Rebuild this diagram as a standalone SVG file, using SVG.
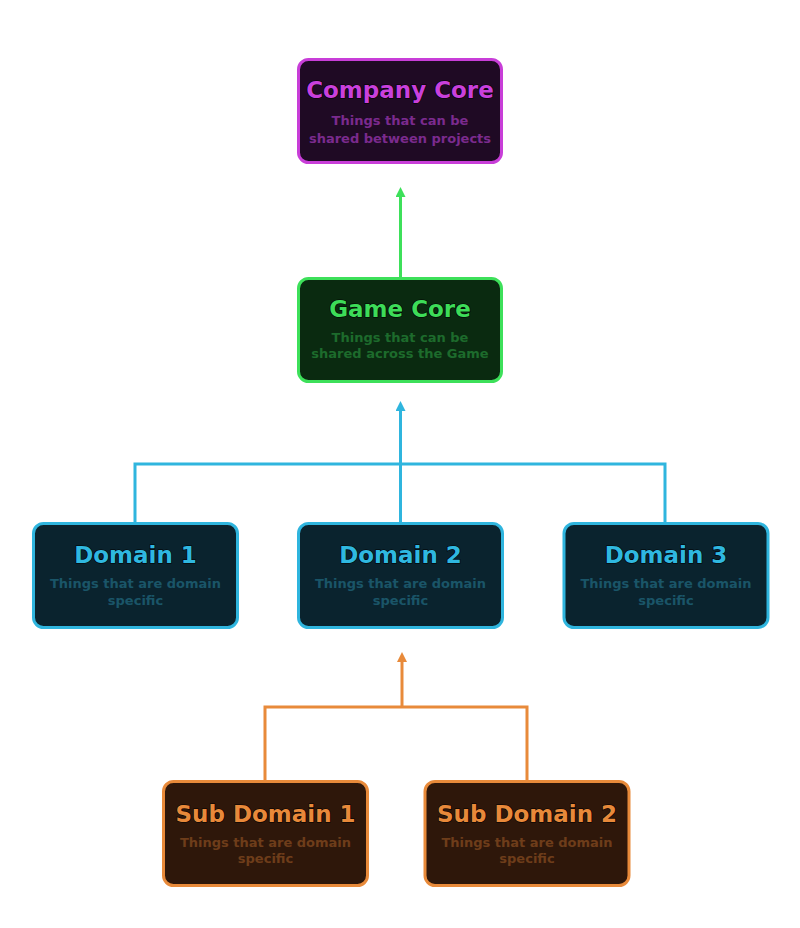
<svg xmlns="http://www.w3.org/2000/svg" width="800" height="928" viewBox="0 0 800 928">
<style>
.box{stroke-width:3}
.t{font-family:"DejaVu Sans","Liberation Sans",sans-serif;font-weight:bold;font-size:23px;text-anchor:middle;stroke:#000;stroke-width:1.2;paint-order:stroke}
.s{font-family:"DejaVu Sans","Liberation Sans",sans-serif;font-weight:bold;font-size:13px;text-anchor:middle}
.c{fill:none;stroke-width:3}
</style>
<defs>
<marker id="ag" viewBox="0 0 10 10" refX="2" refY="5" markerWidth="10" markerHeight="10" markerUnits="userSpaceOnUse" orient="auto"><path d="M0,0 L10,5 L0,10 Z" fill="#3de05a"/></marker>
<marker id="ab" viewBox="0 0 10 10" refX="2" refY="5" markerWidth="10" markerHeight="10" markerUnits="userSpaceOnUse" orient="auto"><path d="M0,0 L10,5 L0,10 Z" fill="#2fb5de"/></marker>
<marker id="ao" viewBox="0 0 10 10" refX="2" refY="5" markerWidth="10" markerHeight="10" markerUnits="userSpaceOnUse" orient="auto"><path d="M0,0 L10,5 L0,10 Z" fill="#e88a3a"/></marker>
</defs>
<rect width="800" height="928" fill="#ffffff"/>
<g id="connectors">
<path class="c" stroke="#3de05a" d="M400.5,277 V195" marker-end="url(#ag)"/>
<path class="c" stroke="#2fb5de" d="M135,523 V464 H665 V523"/>
<path class="c" stroke="#2fb5de" d="M400.5,523 V409" marker-end="url(#ab)"/>
<path class="c" stroke="#e88a3a" d="M265,781 V707 H527 V781"/>
<path class="c" stroke="#e88a3a" d="M402,707 V660" marker-end="url(#ao)"/>
</g>
<g id="company-core">
<rect class="box" x="298.5" y="59.5" width="203" height="103" rx="10" fill="#1f0a24" stroke="#c83ed8"/>
<text class="t" x="400" y="98" fill="#c940dc">Company Core</text>
<text class="s" x="400" y="125" fill="#7b2a8e">Things that can be</text>
<text class="s" x="400" y="143" fill="#7b2a8e">shared between projects</text>
</g>
<g id="game-core">
<rect class="box" x="298.5" y="278.5" width="203" height="103" rx="10" fill="#0a2a10" stroke="#3de05a"/>
<text class="t" x="400" y="317" fill="#3ddc58">Game Core</text>
<text class="s" x="400" y="342" fill="#1d6b2c">Things that can be</text>
<text class="s" x="400" y="358" fill="#1d6b2c">shared across the Game</text>
</g>
<g id="domain-1">
<rect class="box" x="33.5" y="523.5" width="204" height="104" rx="10" fill="#0a232e" stroke="#2fb5de"/>
<text class="t" x="135.5" y="563" fill="#2fb8e0">Domain 1</text>
<text class="s" x="135.5" y="588" fill="#1a5568">Things that are domain</text>
<text class="s" x="135.5" y="605" fill="#1a5568">specific</text>
</g>
<g id="domain-2">
<rect class="box" x="298.5" y="523.5" width="204" height="104" rx="10" fill="#0a232e" stroke="#2fb5de"/>
<text class="t" x="400.5" y="563" fill="#2fb8e0">Domain 2</text>
<text class="s" x="400.5" y="588" fill="#1a5568">Things that are domain</text>
<text class="s" x="400.5" y="605" fill="#1a5568">specific</text>
</g>
<g id="domain-3">
<rect class="box" x="564" y="523.5" width="204" height="104" rx="10" fill="#0a232e" stroke="#2fb5de"/>
<text class="t" x="666" y="563" fill="#2fb8e0">Domain 3</text>
<text class="s" x="666" y="588" fill="#1a5568">Things that are domain</text>
<text class="s" x="666" y="605" fill="#1a5568">specific</text>
</g>
<g id="sub-domain-1">
<rect class="box" x="163.5" y="781.5" width="204" height="104" rx="10" fill="#2e170a" stroke="#e88a3a"/>
<text class="t" x="265.5" y="822" fill="#e8893a">Sub Domain 1</text>
<text class="s" x="265.5" y="847" fill="#6e3d1a">Things that are domain</text>
<text class="s" x="265.5" y="863" fill="#6e3d1a">specific</text>
</g>
<g id="sub-domain-2">
<rect class="box" x="425" y="781.5" width="204" height="104" rx="10" fill="#2e170a" stroke="#e88a3a"/>
<text class="t" x="527" y="822" fill="#e8893a">Sub Domain 2</text>
<text class="s" x="527" y="847" fill="#6e3d1a">Things that are domain</text>
<text class="s" x="527" y="863" fill="#6e3d1a">specific</text>
</g>
</svg>
